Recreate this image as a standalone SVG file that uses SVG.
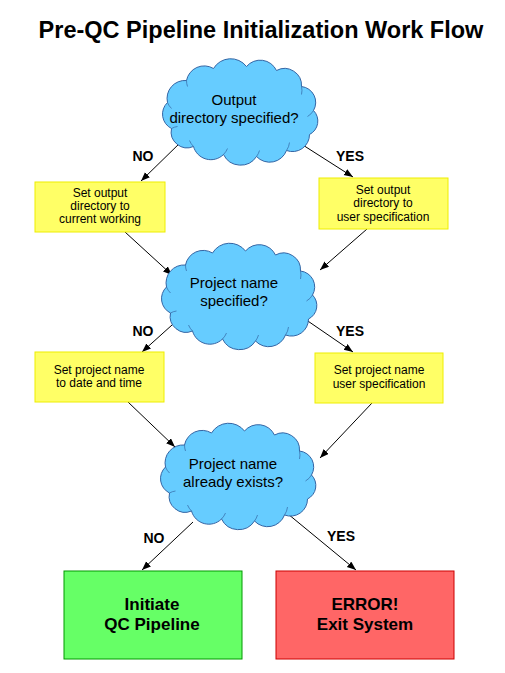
<svg xmlns="http://www.w3.org/2000/svg" width="505" height="673" viewBox="0 0 505 673">
<style>
text{font-family:"Liberation Sans",Arial,sans-serif;fill:#000;text-anchor:middle}
.title{font-size:23.5px;font-weight:bold}
.q{font-size:15px}
.y{font-size:12px}
.lbl{font-size:14px;font-weight:bold}
.big{font-size:17px;font-weight:bold}
.cloud{fill:#66ccff;stroke:#3465a4;stroke-width:1}
.inner{fill:none;stroke:#3465a4;stroke-width:0.7}
.ybox{fill:#ffff66;stroke:#eeee00;stroke-width:1}
.conn line{stroke:#000;stroke-width:1;marker-end:url(#arr)}
</style>
<defs>
<marker id="arr" markerUnits="userSpaceOnUse" markerWidth="10" markerHeight="8" refX="9" refY="3.5" orient="auto">
<path d="M0,0 L9,3.5 L0,7 z" fill="#000"/>
</marker>
<g id="cloudShape">
<path class="cloud" d="M-70,18 A16,16 0 0 1 -74,-8 A18,18 0 0 1 -55,-30 A18,18 0 0 1 -28,-42 A20,20 0 0 1 5,-44 A18,18 0 0 1 35,-40 A17,17 0 0 1 60,-24 A16,16 0 0 1 72,0 A15,15 0 0 1 68,24 A17,17 0 0 1 45,40 A18,18 0 0 1 15,46 A19,19 0 0 1 -18,44 A18,18 0 0 1 -48,36 A16,16 0 0 1 -70,18 Z"/>
<path class="inner" d="M-74,-8 A16,16 0 0 0 -70,-2 M-55,-30 A18,18 0 0 0 -54,-24 M60,-24 A17,17 0 0 1 60,-16 M72,0 A16,16 0 0 1 66,6 M45,40 A17,17 0 0 0 48,32 M15,46 A18,18 0 0 0 18,40 M-18,44 A19,19 0 0 0 -14,38 M-48,36 A18,18 0 0 1 -52,30 M-70,18 A16,16 0 0 1 -64,16"/>
</g>
</defs>
<rect width="505" height="673" fill="#fff"/>
<text class="title" x="261" y="38">Pre-QC Pipeline Initialization Work Flow</text>

<g id="conns" class="conn">
<line x1="183" y1="140" x2="141" y2="181"/>
<line x1="295" y1="140" x2="353" y2="177"/>
<line x1="125" y1="232" x2="172" y2="275"/>
<line x1="367" y1="229" x2="320" y2="270"/>
<line x1="172" y1="325" x2="142" y2="352"/>
<line x1="302" y1="317" x2="353" y2="352"/>
<line x1="128" y1="402" x2="175" y2="447"/>
<line x1="372" y1="403" x2="320" y2="458"/>
<line x1="193" y1="522" x2="142" y2="570"/>
<line x1="288" y1="514" x2="356" y2="570"/>
</g>

<g id="labels">
<text class="lbl" x="143" y="161">NO</text>
<text class="lbl" x="350" y="161">YES</text>
<text class="lbl" x="143" y="336">NO</text>
<text class="lbl" x="350" y="336">YES</text>
<text class="lbl" x="154" y="543">NO</text>
<text class="lbl" x="341" y="541">YES</text>
</g>

<g id="q1">
<use href="#cloudShape" transform="translate(241.5,110.5)"/>
<text class="q" x="234" y="105">Output</text>
<text class="q" x="234" y="123">directory specified?</text>
</g>

<g id="box1">
<rect class="ybox" x="35" y="182" width="130" height="50"/>
<text class="y" x="100" y="197">Set output</text>
<text class="y" x="100" y="210">directory to</text>
<text class="y" x="100" y="223">current working</text>
</g>

<g id="box2">
<rect class="ybox" x="319" y="178" width="129" height="51"/>
<text class="y" x="383" y="194">Set output</text>
<text class="y" x="383" y="207">directory to</text>
<text class="y" x="383" y="221">user specification</text>
</g>

<g id="q2">
<use href="#cloudShape" transform="translate(240.5,295)"/>
<text class="q" x="234" y="288">Project name</text>
<text class="q" x="234" y="306">specified?</text>
</g>

<g id="box3">
<rect class="ybox" x="35" y="352" width="129" height="50"/>
<text class="y" x="99" y="374">Set project name</text>
<text class="y" x="99" y="387">to date and time</text>
</g>

<g id="box4">
<rect class="ybox" x="315" y="353" width="128" height="50"/>
<text class="y" x="379" y="374">Set project name</text>
<text class="y" x="379" y="387.5">user specification</text>
</g>

<g id="q3">
<use href="#cloudShape" transform="translate(239.5,475)"/>
<text class="q" x="233" y="469">Project name</text>
<text class="q" x="233" y="487">already exists?</text>
</g>

<g id="start">
<rect x="64" y="571" width="178" height="88" fill="#66ff66" stroke="#009900" stroke-width="1"/>
<text class="big" x="152" y="610">Initiate</text>
<text class="big" x="152" y="630">QC Pipeline</text>
</g>

<g id="error">
<rect x="276" y="571" width="178" height="88" fill="#ff6666" stroke="#cc0000" stroke-width="1"/>
<text class="big" x="365" y="610">ERROR!</text>
<text class="big" x="365" y="630">Exit System</text>
</g>
</svg>
